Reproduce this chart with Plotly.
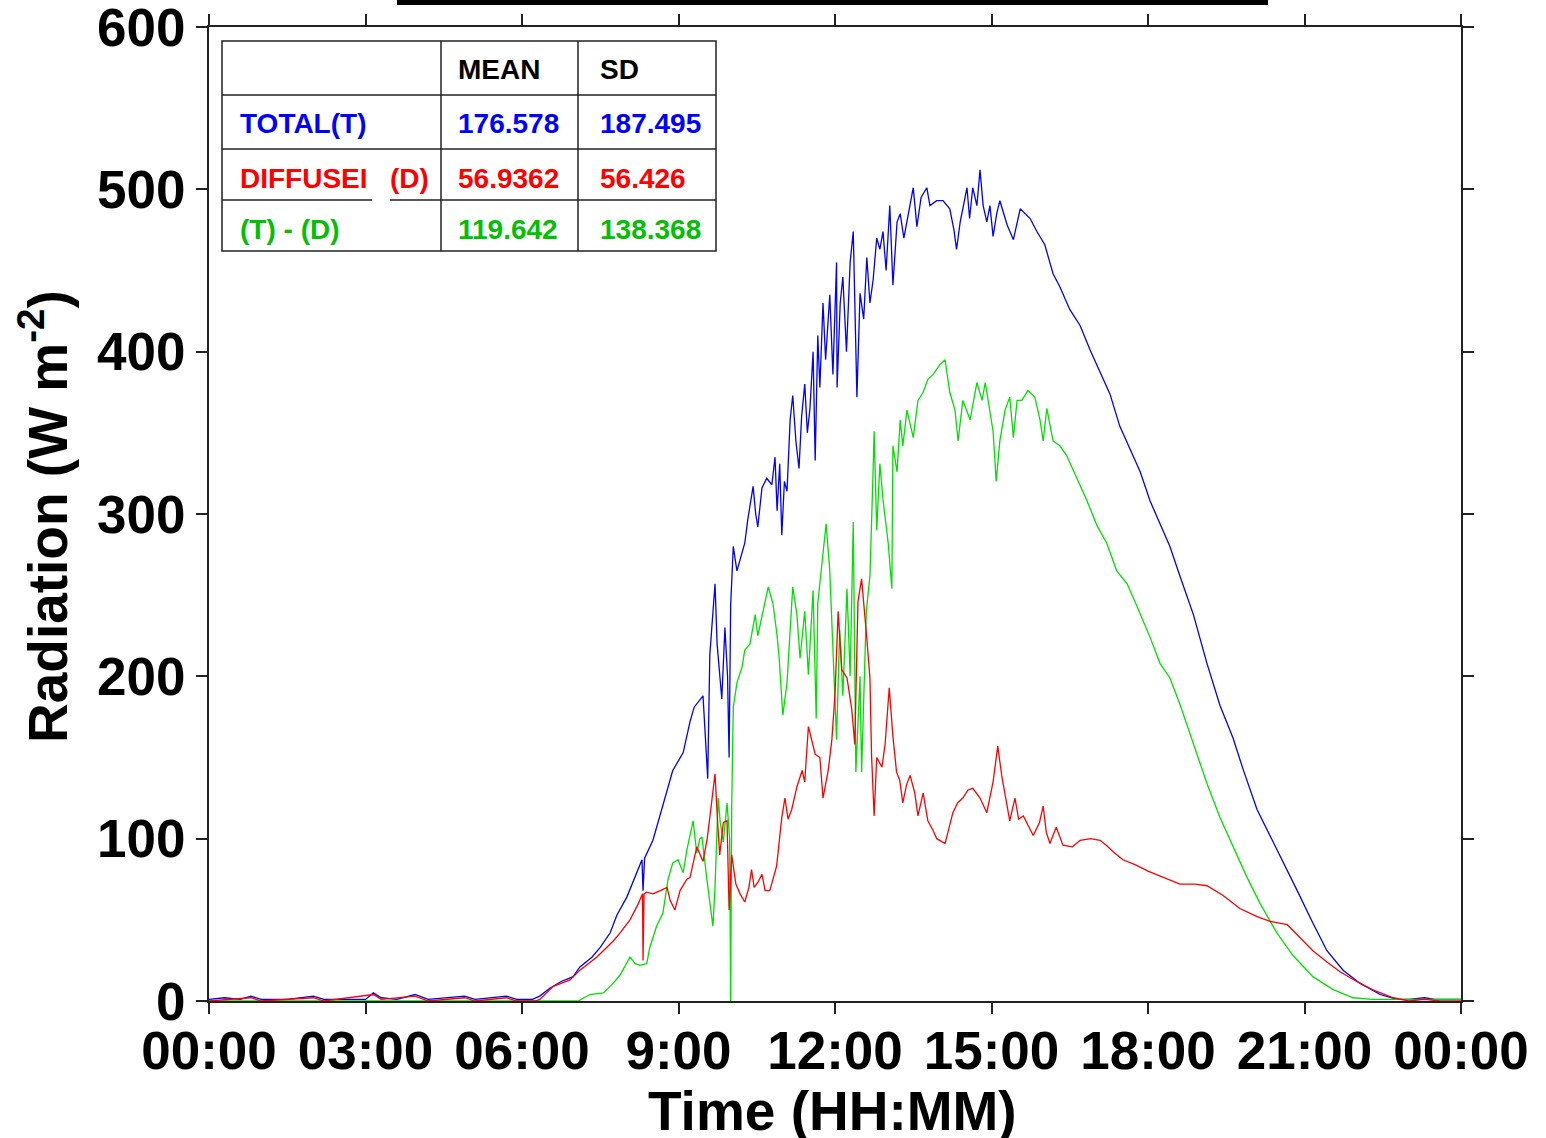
import plotly.graph_objects as go

# ---------------- data (hours of day, W m-2) ----------------
total_time = [0, 0.3, 0.6, 0.8, 1.0, 1.5, 2.0, 2.2, 3.0, 3.15, 3.3, 3.6, 3.95, 4.2, 4.9, 5.1, 5.7, 5.9, 6.2,
              6.34, 6.54, 6.75, 6.98, 7.11, 7.34, 7.5, 7.69, 7.82, 8.01, 8.2, 8.3, 8.32, 8.35, 8.51, 8.7, 8.89,
              9.09, 9.22, 9.3, 9.47, 9.56, 9.6, 9.7, 9.74, 9.83, 9.89, 9.94, 9.97, 10.0, 10.05, 10.12, 10.22,
              10.27, 10.33, 10.43, 10.48, 10.52, 10.6, 10.69, 10.79, 10.85, 10.89, 10.94, 10.98, 11.03, 11.08,
              11.14, 11.19, 11.25, 11.31, 11.36, 11.42, 11.47, 11.52, 11.58, 11.62, 11.67, 11.71, 11.77, 11.82,
              11.87, 11.9, 11.96, 12.03, 12.04, 12.1, 12.15, 12.22, 12.29, 12.35, 12.42, 12.48, 12.55, 12.61,
              12.67, 12.73, 12.8, 12.86, 12.92, 12.98, 13.05, 13.11, 13.19, 13.25, 13.32, 13.44, 13.5, 13.57,
              13.65, 13.76, 13.82, 13.95, 14.07, 14.2, 14.28, 14.33, 14.4, 14.45, 14.53, 14.58, 14.64, 14.72,
              14.78, 14.84, 14.91, 14.97, 15.03, 15.1, 15.16, 15.3, 15.42, 15.55, 15.74, 15.87, 16.02, 16.18,
              16.31, 16.5, 16.7, 16.89, 17.08, 17.27, 17.46, 17.65, 17.85, 18.04, 18.23, 18.42, 18.61, 18.87,
              19.13, 19.38, 19.63, 19.82, 20.09, 20.34, 20.59, 20.86, 21.16, 21.43, 21.74, 22.06, 22.45, 22.77,
              23.0, 23.3, 23.5, 24.0]
total_vals = [1, 2, 1, 3, 1, 1, 3, 1, 1, 5, 2, 1, 4, 1, 3, 1, 3, 1, 1,
              3, 8, 12, 15, 21, 27, 33, 42, 53, 64, 79, 87, 68, 88, 99, 120, 142,
              153, 172, 181, 188, 137, 213, 257, 220, 186, 230, 200, 150, 244, 280, 265, 277,
              282, 297, 317, 300, 292, 316, 322, 318, 335, 302, 331, 287, 320, 314,
              358, 373, 345, 328, 360, 380, 350, 365, 400, 333, 410, 378, 430, 395,
              420, 435, 386, 455, 378, 430, 446, 400, 455, 474, 372, 436, 420, 458,
              430, 444, 470, 463, 474, 450, 490, 441, 480, 485, 470, 490, 501, 477,
              495, 501, 490, 493, 493, 488, 475, 463, 480, 488, 501, 482, 501, 490,
              512, 490, 480, 490, 471, 485, 493, 478, 469, 488, 482, 474, 466, 448,
              440, 426, 416, 401, 388, 374, 354, 340, 326, 308, 294, 280, 262, 238,
              208, 182, 162, 143, 118, 102, 86, 68, 48, 31, 19, 11, 4, 1,
              1, 2, 1, 1]

diffuse_time = [0, 0.8, 1.0, 2.0, 2.2, 3.15, 3.3, 3.95, 4.2, 4.9, 5.1, 5.7, 5.9, 6.25,
                6.34, 6.6, 6.92, 7.11, 7.43, 7.62, 7.75, 7.88, 8.07, 8.23, 8.31, 8.32, 8.34, 8.39, 8.51,
                8.65, 8.78, 8.84, 8.93, 9.03, 9.16, 9.22, 9.35, 9.47, 9.55, 9.6, 9.7, 9.75, 9.79, 9.86,
                9.93, 9.97, 10.02, 10.1, 10.18, 10.27, 10.35, 10.4, 10.45, 10.52, 10.6, 10.66, 10.75,
                10.88, 10.98, 11.04, 11.1, 11.17, 11.27, 11.37, 11.42, 11.49, 11.56, 11.62, 11.71, 11.77,
                11.87, 11.94, 12.0, 12.06, 12.13, 12.23, 12.32, 12.38, 12.44, 12.51, 12.6, 12.67, 12.7,
                12.75, 12.8, 12.9, 12.96, 13.04, 13.11, 13.18, 13.24, 13.3, 13.37, 13.44, 13.53, 13.59,
                13.69, 13.78, 13.88, 13.95, 14.11, 14.2, 14.26, 14.35, 14.45, 14.55, 14.64, 14.78, 14.91,
                15.03, 15.12, 15.2, 15.29, 15.35, 15.45, 15.52, 15.61, 15.8, 15.92, 15.99, 16.05, 16.12,
                16.24, 16.37, 16.55, 16.7, 16.9, 17.08, 17.2, 17.33, 17.52, 17.75, 18.0, 18.3, 18.61,
                18.9, 19.13, 19.44, 19.76, 20.09, 20.34, 20.67, 20.91, 21.16, 21.43, 21.68, 22.0, 22.3,
                22.7, 23.0, 23.3, 23.6, 24.0]
diffuse_vals = [0, 2, 0, 2, 0, 4, 1, 3, 0, 2, 0, 2, 0, 0,
                1, 9, 13, 19, 27, 33, 37, 42, 50, 60, 66, 25, 66, 67, 66,
                68, 70, 62, 56, 68, 75, 76, 95, 86, 100, 113, 140, 110, 90, 110,
                111, 56, 90, 72, 66, 61, 70, 81, 70, 73, 78, 68, 68,
                83, 113, 125, 112, 118, 132, 142, 135, 169, 160, 152, 150, 125,
                142, 161, 189, 240, 204, 199, 180, 158, 246, 260, 227, 199, 152,
                114, 150, 144, 158, 193, 163, 141, 136, 122, 133, 139, 128, 114,
                128, 111, 105, 100, 97, 108, 116, 122, 125, 130, 131, 125, 116,
                135, 157, 138, 122, 111, 125, 112, 114, 102, 110, 120, 104, 97,
                107, 96, 95, 99, 100, 99, 96, 92, 87, 84, 80, 76, 72,
                72, 71, 65, 57, 52, 49, 47, 39, 31, 24, 18, 12, 7,
                2, 0, 1, 0, 0]

direct_time = [0, 6.0, 7.08, 7.3, 7.56, 7.75, 7.88, 8.07, 8.17, 8.26, 8.39, 8.45, 8.58, 8.7, 8.8, 8.89,
               8.99, 9.09, 9.16, 9.28, 9.35, 9.41, 9.45, 9.54, 9.6, 9.66, 9.7, 9.76, 9.8, 9.86, 9.93,
               9.98, 10.0, 10.02, 10.05, 10.12, 10.22, 10.27, 10.37, 10.47, 10.52, 10.62, 10.72, 10.81,
               10.89, 10.93, 11.0, 11.08, 11.14, 11.19, 11.27, 11.33, 11.42, 11.49, 11.58, 11.64, 11.67,
               11.77, 11.83, 11.9, 11.96, 12.03, 12.09, 12.15, 12.23, 12.29, 12.35, 12.4, 12.48, 12.51,
               12.6, 12.67, 12.73, 12.75, 12.8, 12.86, 12.92, 13.02, 13.09, 13.11, 13.19, 13.25, 13.3,
               13.38, 13.5, 13.59, 13.69, 13.78, 13.88, 14.01, 14.11, 14.2, 14.3, 14.36, 14.45, 14.59,
               14.72, 14.82, 14.88, 14.97, 15.03, 15.09, 15.16, 15.26, 15.35, 15.42, 15.49, 15.58, 15.7,
               15.83, 15.93, 15.99, 16.06, 16.18, 16.31, 16.44, 16.63, 16.82, 17.02, 17.21, 17.4, 17.6,
               17.79, 18.04, 18.23, 18.42, 18.61, 18.87, 19.13, 19.38, 19.63, 19.9, 20.15, 20.47, 20.78,
               21.16, 21.55, 21.93, 22.3, 24.0]
direct_vals = [0, 0, 0, 4, 5, 11, 16, 27, 23, 22, 23, 33, 46, 54, 75, 85,
               87, 79, 93, 111, 91, 100, 101, 76, 60, 46, 70, 125, 110, 98, 122,
               100, 0, 120, 181, 196, 206, 216, 220, 238, 225, 240, 255, 245,
               225, 211, 176, 196, 225, 255, 238, 211, 240, 201, 253, 174, 245,
               275, 294, 265, 216, 161, 229, 188, 254, 200, 295, 141, 200, 141,
               240, 262, 326, 351, 290, 331, 309, 282, 254, 342, 326, 358, 342,
               364, 347, 370, 375, 383, 386, 392, 395, 375, 364, 345, 370, 358,
               381, 370, 381, 364, 351, 320, 345, 364, 372, 347, 370, 370, 376,
               372, 358, 345, 365, 345, 342, 336, 323, 309, 293, 282, 265, 257,
               243, 224, 208, 199, 183, 158, 134, 113, 95, 76, 60, 42, 28,
               15, 7, 2, 1, 1]

tick_vals = [0, 3, 6, 9, 12, 15, 18, 21, 24]
tick_text = ["00:00", "03:00", "06:00", "9:00", "12:00", "15:00", "18:00", "21:00", "00:00"]
y_tick_vals = [0, 100, 200, 300, 400, 500, 600]

table_rows = ["TOTAL(T)", "DIFFUSEI", "(T) - (D)"]
table_mean = ["176.578", "56.9362", "119.642"]
table_sd = ["187.495", "56.426", "138.368"]

# ---------------- figure ----------------
W, H = 1546, 1138
L, R, T, B = 209, 1461, 27, 1001


def px(xp):
    return (xp - L) / (R - L)


def py(yp):
    return (B - yp) / (B - T)


BLUE, RED, GREEN_L, GREEN_T = "#0000FF", "#FF0000", "#00E000", "#00C000"

fig = go.Figure()
fig.add_trace(go.Scatter(x=total_time, y=total_vals, mode="lines",
                         line=dict(color=BLUE, width=1.3), name="TOTAL(T)"))
fig.add_trace(go.Scatter(x=direct_time, y=direct_vals, mode="lines",
                         line=dict(color=GREEN_L, width=1.3), name="(T) - (D)"))
fig.add_trace(go.Scatter(x=diffuse_time, y=diffuse_vals, mode="lines",
                         line=dict(color=RED, width=1.3), name="DIFFUSE (D)"))

FONT = "Liberation Sans, Arial, sans-serif"
axis_common = dict(showline=True, linecolor="#222", linewidth=2, mirror="allticks",
                   ticks="outside", ticklen=11, tickwidth=2, tickcolor="#222",
                   showgrid=False, zeroline=False, ticklabeloverflow="allow", automargin=False,
                   tickfont=dict(family=FONT, size=53, color="black", weight="bold"))

fig.update_xaxes(range=[0, 24], tickvals=tick_vals, ticktext=tick_text, **axis_common)
fig.update_yaxes(range=[0, 600], tickvals=y_tick_vals, **axis_common)
try:
    fig.update_xaxes(ticklabelstandoff=-9)
except Exception:
    pass

shapes = []
line_style = dict(color="#222", width=1.5)
# table frame
shapes.append(dict(type="rect", xref="paper", yref="paper", x0=px(222), x1=px(716),
                   y0=py(251), y1=py(41), line=line_style, fillcolor="white", layer="above"))
for xv in (441, 578):
    shapes.append(dict(type="line", xref="paper", yref="paper", x0=px(xv), x1=px(xv),
                       y0=py(251), y1=py(41), line=line_style, layer="above"))
for yv in (95, 149):
    shapes.append(dict(type="line", xref="paper", yref="paper", x0=px(222), x1=px(716),
                       y0=py(yv), y1=py(yv), line=line_style, layer="above"))
for (xa, xb) in ((222, 372), (390, 716)):
    shapes.append(dict(type="line", xref="paper", yref="paper", x0=px(xa), x1=px(xb),
                       y0=py(200), y1=py(200), line=line_style, layer="above"))
# black bar at the top (bottom of a cut-off title box)
shapes.append(dict(type="rect", xref="paper", yref="paper", x0=px(397), x1=px(1268),
                   y0=py(5), y1=py(-4), line=dict(width=0), fillcolor="black", layer="above"))

ann = []


def add_text(txt, xp, yp, color):
    ann.append(dict(text=txt, xref="paper", yref="paper", x=px(xp), y=py(yp),
                    xanchor="left", yanchor="middle", showarrow=False,
                    font=dict(family=FONT, size=28, color=color)))


add_text("<b>MEAN</b>", 456, 69, "black")
add_text("<b>SD</b>", 598, 69, "black")
colors = [BLUE, RED, GREEN_T]
row_y = [123, 178, 229]
for i in range(3):
    add_text("<b>" + table_rows[i] + "</b>", 238, row_y[i], colors[i])
    add_text("<b>" + table_mean[i] + "</b>", 456, row_y[i], colors[i])
    add_text("<b>" + table_sd[i] + "</b>", 598, row_y[i], colors[i])
add_text("<b>(D)</b>", 388, 178, RED)

# axis titles
ann.append(dict(text="<b>Time (HH:MM)</b>", xref="paper", yref="paper",
                x=px(832), y=py(1111), xanchor="center", yanchor="middle", showarrow=False,
                font=dict(family=FONT, size=55, color="black")))
ann.append(dict(text="<b>Radiation (W m<sup>-2</sup>)</b>", xref="paper", yref="paper",
                x=px(44), y=py(517), xanchor="center", yanchor="middle", showarrow=False,
                textangle=-90, font=dict(family=FONT, size=55, color="black")))

fig.update_layout(width=W, height=H, margin=dict(l=L, r=W - R, t=T, b=H - B, pad=0, autoexpand=False),
                  paper_bgcolor="white", plot_bgcolor="white", showlegend=False,
                  shapes=shapes, annotations=ann)

fig.write_html("out.html")
